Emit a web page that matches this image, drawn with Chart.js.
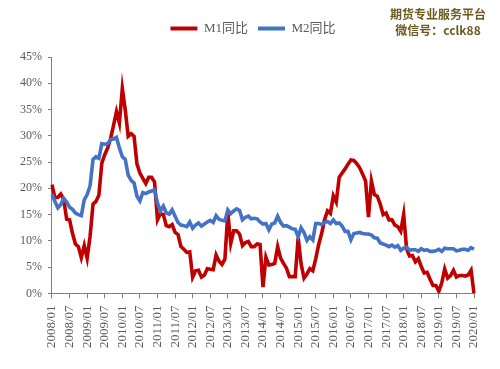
<!DOCTYPE html>
<html>
<head>
<meta charset="utf-8">
<script src="https://cdn.jsdelivr.net/npm/chart.js@4/dist/chart.umd.min.js"></script>
<style>
  html, body { margin: 0; padding: 0; background: #fff; }
  #wrap { position: relative; width: 500px; height: 369px; }
  #mark {
    position: absolute; left: 386px; top: 6px; width: 104px;
    text-align: center; font: bold 12px "Noto Sans CJK SC", sans-serif;
    line-height: 16px; color: #6b5b1f;
  }
</style>
</head>
<body>
<div id="wrap">
  <canvas id="myChart" width="500" height="369"></canvas>
  <div id="mark">期货专业服务平台<br>微信号：cclk88</div>
</div>
<script>
// monthly, 2008/01 .. 2020/01
let startYear = 2008;
let endYear = 2020;

let months = [];
for (let y = startYear; y <= endYear; y++) {
  for (let m = 1; m <= 12; m++) {
    if (y === endYear && m > 1) break;
    months.push(y + "/" + (m < 10 ? "0" + m : m));
  }
}

let m1 = [
  20.7, 18.2, 18.3, 18.9, 17.9, 14.1, 14.0, 11.4, 9.4, 8.9, 6.8, 9.1,   // 2008
  6.7, 10.9, 17.0, 17.5, 18.7, 24.8, 26.4, 27.7, 29.5, 32.0, 34.6, 32.4, // 2009
  39.0, 34.9, 29.9, 30.4, 29.9, 24.6, 22.9, 21.9, 20.9, 22.1, 22.1, 21.2, // 2010
  14.0, 15.2, 15.0, 12.9, 12.7, 13.1, 11.6, 11.2, 8.9, 8.4, 7.8, 7.9,   // 2011
  3.1, 4.3, 4.4, 3.1, 3.5, 4.7, 4.6, 4.5, 7.3, 6.1, 5.5, 6.5,           // 2012
  15.3, 9.5, 11.9, 11.9, 11.3, 9.1, 9.7, 9.9, 8.9, 8.9, 9.4, 9.3,       // 2013
  1.2, 6.9, 5.4, 5.5, 5.7, 8.9, 6.7, 5.7, 4.8, 3.2, 3.2, 3.2,           // 2014
  10.6, 5.6, 2.9, 3.7, 4.7, 4.3, 6.6, 9.3, 11.4, 14.0, 15.7, 15.2,      // 2015
  18.6, 17.4, 22.1, 22.9, 23.7, 24.6, 25.4, 25.3, 24.7, 23.9, 22.7, 21.4, // 2016
  14.5, 21.4, 18.8, 18.5, 17.0, 15.0, 15.3, 14.0, 14.0, 13.0, 12.7, 11.8, // 2017
  15.0, 8.5, 7.1, 7.2, 6.0, 6.6, 5.1, 3.9, 4.0, 2.7, 1.5, 1.5,          // 2018
  0.4, 2.0, 4.6, 2.9, 3.4, 4.4, 3.1, 3.4, 3.4, 3.3, 3.5, 4.4,           // 2019
  0.0                                                                   // 2020
];

let m2 = [
  18.9, 17.5, 16.3, 16.9, 18.1, 17.4, 16.4, 16.0, 15.3, 15.0, 14.8, 17.8, // 2008
  18.8, 20.5, 25.5, 26.0, 25.7, 28.5, 28.4, 28.5, 29.3, 29.4, 29.7, 27.7, // 2009
  26.0, 25.5, 22.5, 21.5, 21.0, 18.5, 17.6, 19.2, 19.0, 19.3, 19.5, 19.7, // 2010
  17.2, 15.7, 16.6, 15.3, 15.1, 15.9, 14.7, 13.5, 13.0, 12.9, 12.7, 13.6, // 2011
  12.4, 13.0, 13.4, 12.8, 13.2, 13.6, 13.9, 13.5, 14.8, 14.1, 13.9, 13.8, // 2012
  15.9, 15.2, 15.7, 16.1, 15.8, 14.0, 14.5, 14.7, 14.2, 14.3, 14.2, 13.6, // 2013
  13.2, 13.3, 12.1, 13.2, 13.4, 14.7, 13.5, 12.8, 12.9, 12.6, 12.3, 12.2, // 2014
  10.8, 12.5, 11.6, 10.1, 10.8, 10.2, 13.3, 13.3, 13.1, 13.5, 13.7, 13.3, // 2015
  14.0, 13.3, 13.4, 12.8, 11.8, 11.8, 10.2, 11.4, 11.5, 11.6, 11.4, 11.3, // 2016
  11.3, 11.1, 10.6, 10.5, 9.6, 9.4, 9.2, 8.9, 9.2, 8.8, 9.1, 8.2,         // 2017
  8.6, 8.8, 8.2, 8.3, 8.3, 8.0, 8.5, 8.2, 8.3, 8.0, 8.0, 8.1,             // 2018
  8.4, 8.0, 8.6, 8.5, 8.5, 8.5, 8.1, 8.2, 8.4, 8.4, 8.2, 8.7,             // 2019
  8.4                                                                     // 2020
];

let yTicks = [0, 5, 10, 15, 20, 25, 30, 35, 40, 45];

let axisColor = "#7f7f7f";
let textColor = "#595959";

// push the plot area down below the legend, and nudge the legend right
let legendGap = {
  id: "legendGap",
  beforeInit(chart) {
    let fit = chart.legend.fit;
    chart.legend.fit = function () {
      fit.bind(chart.legend)();
      this.height += 12;
    };
  },
  afterLayout(chart) {
    chart.legend.left += 9;
    chart.legend.right += 9;
  },
};

let ctx = document.getElementById("myChart").getContext("2d");
let lineChart = new Chart(ctx, {
  type: "line",
  data: {
    labels: months,
    datasets: [
      {
        label: "M1同比",
        data: m1,
        borderColor: "#C00000",
        backgroundColor: "#C00000",
        borderWidth: 3.6,
        pointRadius: 0,
        order: 1,
      },
      {
        label: "M2同比",
        data: m2,
        borderColor: "#4472C4",
        backgroundColor: "#4472C4",
        borderWidth: 3.6,
        pointRadius: 0,
        order: 0,
      },
    ],
  },
  options: {
    responsive: false,
    animation: false,
    layout: { padding: { left: 14, right: 26, top: 12, bottom: 14 } },
    plugins: {
      tooltip: { enabled: false },
      legend: {
        position: "top",
        labels: {
          boxWidth: 27,
          boxHeight: 4,
          padding: 10,
          color: textColor,
          font: { family: "'Liberation Serif', 'Noto Sans CJK SC'", size: 13 },
          sort: (a, b) => a.datasetIndex - b.datasetIndex,
          generateLabels(chart) {
            let items = Chart.defaults.plugins.legend.labels.generateLabels(chart);
            items.forEach((it) => {
              it.lineWidth = 0;
              it.fillStyle = it.strokeStyle;
            });
            return items;
          },
        },
      },
    },
    scales: {
      x: {
        grid: { drawOnChartArea: false, drawTicks: true, tickLength: 5, color: axisColor },
        border: { color: axisColor, width: 1 },
        ticks: {
          autoSkip: false,
          maxRotation: 90,
          minRotation: 90,
          padding: 7,
          color: textColor,
          font: { family: "'Liberation Serif'", size: 13 },
          callback: function (v, i) {
            return i % 6 === 0 ? months[i] : null;
          },
        },
      },
      y: {
        min: 0,
        max: 45,
        afterBuildTicks(axis) {
          axis.ticks = yTicks.map((v) => ({ value: v }));
        },
        grid: { drawOnChartArea: false, drawTicks: true, tickLength: 4, color: axisColor },
        border: { color: axisColor, width: 1 },
        ticks: {
          padding: 6,
          color: textColor,
          font: { family: "'Liberation Serif'", size: 12 },
          callback: (v) => v + "%",
        },
      },
    },
  },
  plugins: [legendGap],
});
</script>
</body>
</html>
